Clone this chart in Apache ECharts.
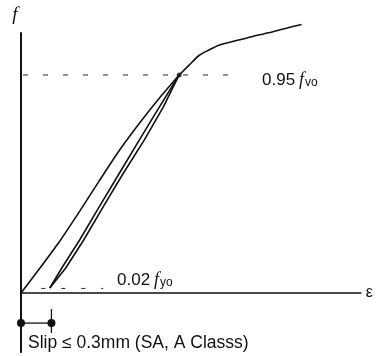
<!DOCTYPE html>
<html>
<head>
<meta charset="utf-8">
<script src="https://cdn.jsdelivr.net/npm/echarts@6/dist/echarts.min.js"></script>
<style>html,body{margin:0;padding:0;background:#fff;}#c{width:376px;height:356px;}</style>
</head>
<body>
<div id="c"></div>
<script>
// axis names
const xAxisName = 'ε';
const yAxisName = 'f';
// first loading branch (strain, f / f_yo)
const firstLoadX = [0, 0.187, 0.383, 0.579, 0.776, 0.972, 1.169, 1.365, 1.559];
const firstLoadF = [0, 0.109, 0.227, 0.357, 0.492, 0.623, 0.741, 0.850, 0.950];
// unloading branch
const unloadX = [1.559, 1.363, 1.167, 0.971, 0.775, 0.578, 0.402, 0.284];
const unloadF = [0.950, 0.810, 0.667, 0.523, 0.379, 0.231, 0.109, 0.022];
// reloading branch
const reloadX = [0.284, 0.441, 0.618, 0.814, 1.010, 1.216, 1.402, 1.559];
const reloadF = [0.022, 0.109, 0.231, 0.379, 0.523, 0.667, 0.810, 0.950];
// continued loading past 0.95 f_yo
const yieldX = [1.559, 1.657, 1.755, 1.853, 1.951, 2.115, 2.275, 2.441, 2.605, 2.765];
const yieldF = [0.950, 0.993, 1.035, 1.059, 1.080, 1.099, 1.117, 1.134, 1.153, 1.170];
// reference levels
const upperLevel = 0.95, upperLevelX = [0.02, 2.15];
const lowerLevel = 0.02, lowerLevelX = [0.20, 0.81];
// slip dimension (mm)
const slipX = [0, 0.3];
const slipLevel = -0.131;
const slipTickF = [-0.07, -0.174];
const bracketX = [-0.06, 0];
const bracketF = -0.257;
// text
const upperLabel = ['0.95', 'f', 'vo'];
const lowerLabel = ['0.02', 'f', 'yo'];
const slipLabel = 'Slip ≤ 0.3mm (SA, A Classs)';

const zip = (xs, ys) => xs.map((x, i) => [x, ys[i]]);
const INK = '#111';
const lineSeries = (name, data, smooth) => ({
  name, type: 'line', data, showSymbol: false, smooth: smooth, clip: false,
  lineStyle: { color: INK, width: 1.6 }, silent: true, animation: false
});

const rich = {
  n: { fontSize: 17, fontFamily: 'Liberation Sans', fill: INK, lineHeight: 20, verticalAlign: 'bottom' },
  f: { fontSize: 18, fontFamily: 'Liberation Serif', fontStyle: 'italic', fill: INK, lineHeight: 20, verticalAlign: 'bottom', padding: [0, 1, 0, 4] },
  s: { fontSize: 12, fontFamily: 'Liberation Sans', fill: INK, lineHeight: 14, verticalAlign: 'bottom' }
};
const richText = (parts) => '{n|' + parts[0] + '}{f|' + parts[1] + '}{s|' + parts[2] + '}';

const chart = echarts.init(document.getElementById('c'), null, { renderer: 'canvas' });
chart.setOption({
  animation: false,
  backgroundColor: '#fff',
  grid: { left: 21, right: 14, top: 33, bottom: 4 },
  xAxis: {
    type: 'value', min: 0, max: 3.35,
    name: xAxisName, nameLocation: 'end', nameGap: 5,
    nameTextStyle: { fontSize: 16, fontFamily: 'Liberation Sans', color: INK },
    axisLine: { onZero: true, lineStyle: { color: INK, width: 1.6 } },
    axisTick: { show: false }, axisLabel: { show: false }, splitLine: { show: false }
  },
  yAxis: {
    type: 'value', min: -0.257, max: 1.133,
    name: yAxisName, nameLocation: 'end', nameGap: 9,
    nameTextStyle: { fontSize: 19, fontFamily: 'Liberation Serif', fontStyle: 'italic', color: INK, padding: [0, 12, 0, 0] },
    axisLine: { onZero: false, lineStyle: { color: INK, width: 2 } },
    axisTick: { show: false }, axisLabel: { show: false }, splitLine: { show: false }
  },
  series: [
    lineSeries('first loading', zip(firstLoadX, firstLoadF), 0.2),
    lineSeries('unloading', zip(unloadX, unloadF), false),
    lineSeries('reloading', zip(reloadX, reloadF), false),
    lineSeries('continued loading', zip(yieldX, yieldF), 0.3),
    {
      type: 'line', data: upperLevelX.map(x => [x, upperLevel]), showSymbol: false, silent: true,
      lineStyle: { color: '#222', width: 1, type: [5, 15] }
    },
    {
      type: 'line', data: lowerLevelX.map(x => [x, lowerLevel]), showSymbol: false, silent: true,
      lineStyle: { color: '#222', width: 1, type: [4, 16] }
    },
    {
      type: 'scatter', data: [[firstLoadX[firstLoadX.length - 1], firstLoadF[firstLoadF.length - 1]]],
      symbolSize: 5, itemStyle: { color: INK }, silent: true
    },
    {
      type: 'line', data: slipX.map(x => [x, slipLevel]), symbol: 'circle', symbolSize: 8, showSymbol: true,
      clip: false, silent: true, itemStyle: { color: INK }, lineStyle: { color: INK, width: 1.3 }
    },
    {
      type: 'line', data: slipTickF.map(f => [slipX[1], f]), showSymbol: false, clip: false, silent: true,
      lineStyle: { color: INK, width: 1.3 }
    },
    {
      type: 'line', data: bracketX.map(x => [x, bracketF]), showSymbol: false, clip: false, silent: true,
      lineStyle: { color: INK, width: 1.6 }
    }
  ],
  graphic: [
    { type: 'text', x: 262, y: 79, style: { text: richText(upperLabel), rich, verticalAlign: 'middle', align: 'left' } },
    { type: 'text', x: 117, y: 279, style: { text: richText(lowerLabel), rich, verticalAlign: 'middle', align: 'left' } },
    { type: 'text', x: 28, y: 343, style: { text: slipLabel, fontSize: 17.5, fontFamily: 'Liberation Sans', fill: INK, verticalAlign: 'middle', align: 'left' } }
  ]
});
</script>
</body>
</html>
